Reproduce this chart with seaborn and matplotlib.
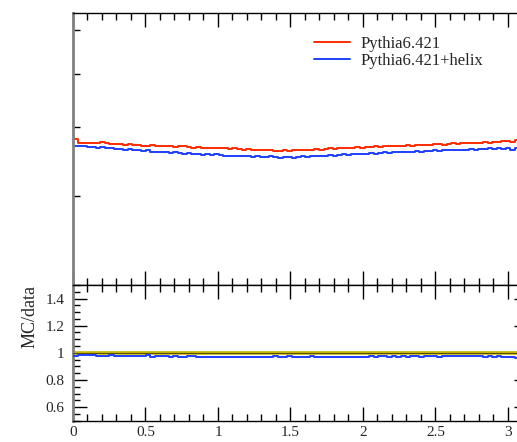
import numpy as np
import pandas as pd
import seaborn as sns
import matplotlib.pyplot as plt
from matplotlib.ticker import MultipleLocator, FixedLocator, NullFormatter, NullLocator, FormatStrFormatter

# histogram in phi, 100 bins from 0 to pi
n_bins = 100
phi_lo, phi_hi = 0.0, np.pi

pythia = [3.80, 3.75, 3.75, 3.75, 3.74, 3.75, 3.76, 3.74, 3.73, 3.73,
          3.73, 3.72, 3.73, 3.71, 3.71, 3.70, 3.70, 3.71, 3.69, 3.70,
          3.69, 3.69, 3.68, 3.69, 3.69, 3.68, 3.67, 3.68, 3.67, 3.67,
          3.66, 3.67, 3.67, 3.66, 3.65, 3.66, 3.65, 3.64, 3.65, 3.64,
          3.64, 3.63, 3.63, 3.64, 3.62, 3.62, 3.63, 3.62, 3.63, 3.63,
          3.64, 3.64, 3.63, 3.65, 3.64, 3.65, 3.66, 3.65, 3.66, 3.67,
          3.66, 3.67, 3.68, 3.67, 3.68, 3.68, 3.69, 3.68, 3.69, 3.70,
          3.69, 3.70, 3.70, 3.71, 3.70, 3.71, 3.72, 3.71, 3.72, 3.73,
          3.73, 3.72, 3.73, 3.74, 3.73, 3.74, 3.74, 3.75, 3.74, 3.75,
          3.76, 3.75, 3.76, 3.76, 3.77, 3.77, 3.76, 3.79, 3.78, 3.79]

helix = [3.70, 3.69, 3.69, 3.68, 3.68, 3.67, 3.68, 3.66, 3.66, 3.65,
         3.65, 3.64, 3.65, 3.63, 3.63, 3.62, 3.63, 3.61, 3.60, 3.61,
         3.60, 3.59, 3.60, 3.59, 3.58, 3.59, 3.58, 3.58, 3.56, 3.57,
         3.56, 3.57, 3.56, 3.55, 3.55, 3.54, 3.55, 3.54, 3.54, 3.53,
         3.54, 3.53, 3.53, 3.54, 3.53, 3.52, 3.53, 3.53, 3.52, 3.53,
         3.54, 3.53, 3.54, 3.55, 3.54, 3.55, 3.56, 3.55, 3.56, 3.57,
         3.56, 3.57, 3.58, 3.57, 3.58, 3.59, 3.58, 3.59, 3.60, 3.59,
         3.60, 3.60, 3.61, 3.60, 3.61, 3.62, 3.61, 3.62, 3.62, 3.63,
         3.62, 3.63, 3.63, 3.64, 3.63, 3.64, 3.64, 3.65, 3.64, 3.65,
         3.65, 3.66, 3.65, 3.66, 3.65, 3.66, 3.64, 3.66, 3.65, 3.66]

labels = ["Pythia6.421", "Pythia6.421+helix"]
colors = ["#ff2a00", "#1f3fff"]

sns.set_theme(style="white")
plt.rcParams['font.family'] = ['Liberation Serif', 'DejaVu Serif']

edges = np.linspace(phi_lo, phi_hi, n_bins + 1)
def steps(v):
    v = np.asarray(v, dtype=float)
    return np.append(v, v[-1])

df = pd.DataFrame({
    "phi": np.tile(edges, 2),
    "val": np.concatenate([steps(pythia), steps(helix)]),
    "gen": np.repeat(labels, n_bins + 1),
})
ratio = np.array(helix) / np.array(pythia)
df_r = pd.DataFrame({"phi": edges, "val": steps(ratio)})

W, H = 517, 442
fig = plt.figure(figsize=(W / 100, H / 100), dpi=100)
x0, xw = 73 / W, 455.5 / W
ax1 = fig.add_axes([x0, 1 - 285 / H, xw, (285 - 12.7) / H])
ax2 = fig.add_axes([x0, 1 - 420.7 / H, xw, (420.7 - 285) / H])

sns.lineplot(data=df, x="phi", y="val", hue="gen", palette=colors,
             drawstyle="steps-post", estimator=None, lw=1.4, legend=False, ax=ax1)
ax1.set_yscale("log")
ax1.set_ylim(2.07, 6.45)
ax1.set_xlim(phi_lo, phi_hi)
ax1.yaxis.set_major_locator(FixedLocator([3, 4, 5, 6]))
ax1.yaxis.set_major_formatter(NullFormatter())
ax1.yaxis.set_minor_locator(NullLocator())
ax1.yaxis.set_minor_formatter(NullFormatter())
ax1.xaxis.set_major_formatter(NullFormatter())
ax1.set_xlabel("")
ax1.set_ylabel("")
ax1.legend(handles=ax1.lines[:2], labels=labels, loc="upper left",
           bbox_to_anchor=(0.515, 0.94), frameon=False, fontsize=12,
           handlelength=2.15, handletextpad=0.6, labelspacing=0.05,
           borderaxespad=0)

# ratio panel
ax2.axhline(1.0, color="#c8b400", lw=2.6, zorder=2)
ax2.axhline(1.0, color="#404000", lw=0.6, zorder=3)
sns.lineplot(data=df_r, x="phi", y="val", color=colors[1], drawstyle="steps-post",
             estimator=None, lw=1.4, ax=ax2, zorder=4)
ax2.set_xlim(phi_lo, phi_hi)
ax2.set_ylim(0.5, 1.5)
ax2.yaxis.set_major_locator(FixedLocator([0.6, 0.8, 1.0, 1.2, 1.4]))
ax2.yaxis.set_minor_locator(MultipleLocator(0.05))
ax2.yaxis.set_major_formatter(FormatStrFormatter("%g"))
ax2.xaxis.set_major_formatter(FormatStrFormatter("%g"))
ax2.set_xlabel("")
ax2.set_ylabel("MC/data", fontsize=13, loc="top")
ax2.yaxis.set_label_coords(-0.076, 1.0)

for ax in (ax1, ax2):
    ax.xaxis.set_major_locator(MultipleLocator(0.5))
    ax.xaxis.set_minor_locator(MultipleLocator(0.1))
    ax.tick_params(which="both", direction="in", top=True, right=True,
                   bottom=True, left=True, color="black", width=1)
    ax.tick_params(which="major", length=10)
    ax.tick_params(which="minor", length=5)
    ax.tick_params(axis="x", labelsize=11, pad=4)
    ax.tick_params(axis="y", labelsize=11, pad=6)
    for s in ("top", "bottom", "right"):
        ax.spines[s].set_color("black")
        ax.spines[s].set_linewidth(1)
    ax.spines["left"].set_color("#808080")
    ax.spines["left"].set_linewidth(2)
    ax.set_facecolor("white")
ax1.tick_params(axis="y", which="major", length=5)

fig.savefig("out.png", dpi=100)
